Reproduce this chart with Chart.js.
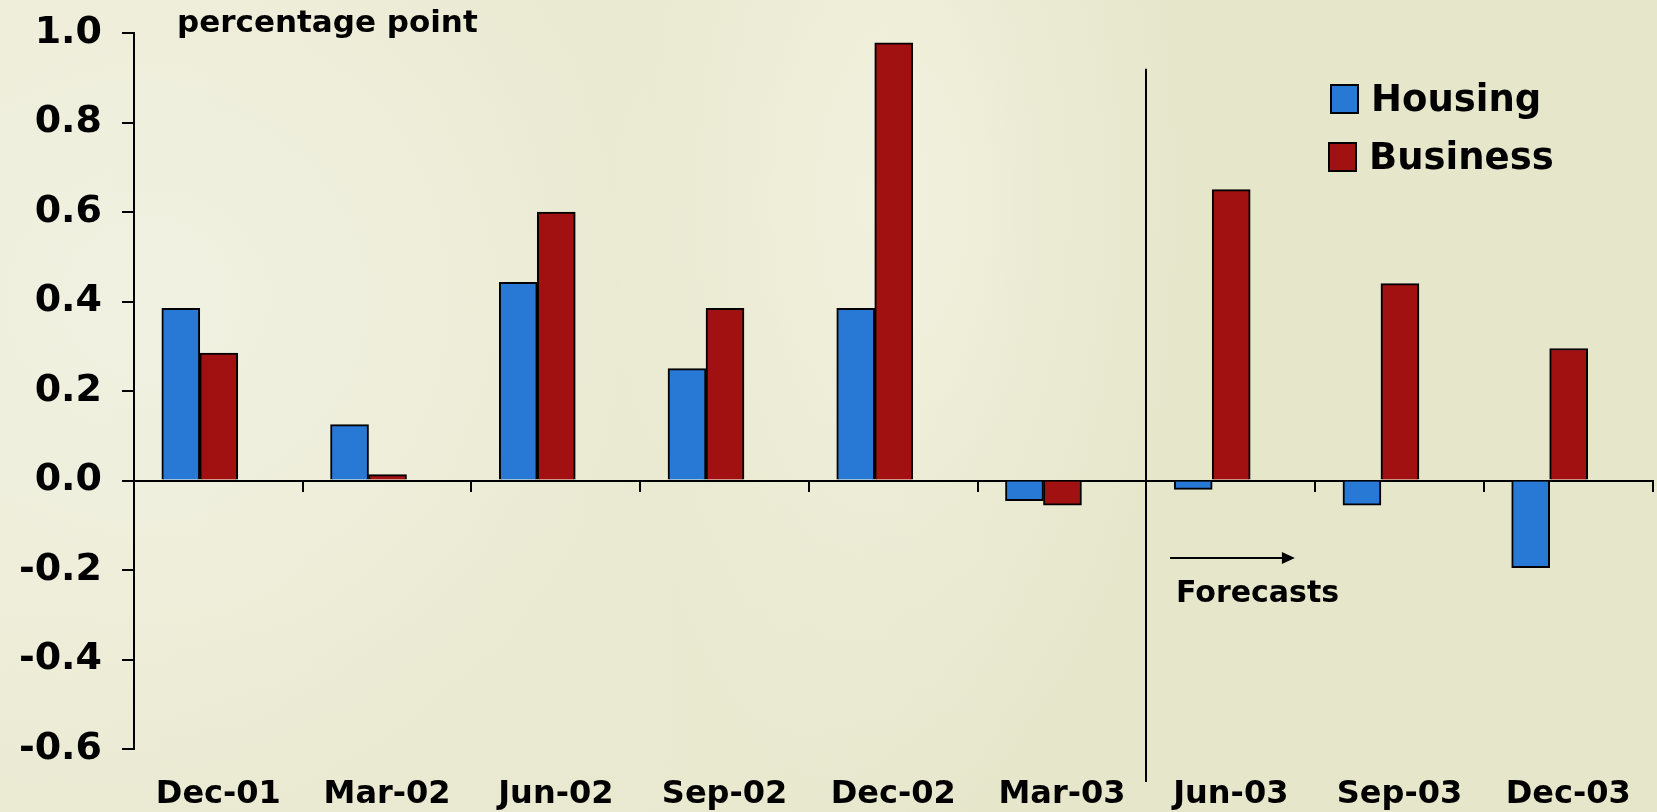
<!DOCTYPE html>
<html>
<head>
<meta charset="utf-8">
<script src="https://cdn.jsdelivr.net/npm/chart.js@4.4.0/dist/chart.umd.min.js"></script>
<style>
  html, body { margin: 0; padding: 0; }
  body {
    width: 1657px;
    height: 812px;
    overflow: hidden;
    background:
      radial-gradient(ellipse 420px 900px at 900px 200px, rgba(244,244,228,0.75), rgba(244,244,228,0) 70%),
      radial-gradient(ellipse 750px 700px at 150px 300px, rgba(242,242,228,0.9), rgba(242,242,228,0) 75%),
      linear-gradient(90deg, #ebebd4 0%, #e9e9d0 45%, #e6e6cb 62%, #e6e6cb 100%);
  }
  #wrap { position: relative; width: 1657px; height: 812px; }
</style>
</head>
<body>
<div id="wrap"><canvas id="mybargraph"></canvas></div>
<script>
// data
const quarters = ['Dec-01', 'Mar-02', 'Jun-02', 'Sep-02', 'Dec-02', 'Mar-03', 'Jun-03', 'Sep-03', 'Dec-03']
const housing = [0.385, 0.125, 0.443, 0.25, 0.385, -0.045, -0.02, -0.055, -0.195]
const business = [0.285, 0.013, 0.60, 0.385, 0.978, -0.055, 0.65, 0.44, 0.295]
const yTicks = [-0.6, -0.4, -0.2, 0.0, 0.2, 0.4, 0.6, 0.8, 1.0]
const forecastStart = 'Jun-03'

// bars sit a little left of the category centre in the original
const barShift = -0.11
const font = '"DejaVu Sans", Verdana, sans-serif'

function points(values){
    return values.map(function(v, i){
        return {x: i + barShift, y: v}
    })
}

// title, legend, forecast marker
const extras = {
    id: 'extras',
    afterDraw(chart){
        const ctx = chart.ctx
        const xs = chart.scales.x
        const ys = chart.scales.y
        ctx.save()
        ctx.fillStyle = '#000'
        ctx.textBaseline = 'middle'
        ctx.textAlign = 'left'
        ctx.font = 'bold 31px ' + font
        ctx.fillText('percentage point', 177, 24)

        // legend
        ctx.font = 'bold 37px ' + font
        ctx.lineWidth = 2
        ctx.strokeStyle = '#000'
        chart.data.datasets.forEach(function(ds, i){
            const top = 85 + i * 58
            const left = 1331 - i * 2
            ctx.fillStyle = ds.backgroundColor
            ctx.fillRect(left, top, 27, 28)
            ctx.strokeRect(left, top, 27, 28)
            ctx.fillStyle = '#000'
            ctx.fillText(ds.label, left + 40, top + 16)
        })

        // forecast divider
        const fi = quarters.indexOf(forecastStart)
        const lx = Math.round(xs.getPixelForValue(fi - 0.5))
        ctx.lineWidth = 2
        ctx.beginPath()
        ctx.moveTo(lx, ys.getPixelForValue(0.92))
        ctx.lineTo(lx, chart.height - 30)
        ctx.stroke()

        // arrow + label
        const ax1 = xs.getPixelForValue(fi - 0.36)
        const ax2 = xs.getPixelForValue(fi + 0.38)
        const ay = ys.getPixelForValue(-0.173)
        ctx.lineWidth = 2
        ctx.beginPath()
        ctx.moveTo(ax1, ay)
        ctx.lineTo(ax2 - 10, ay)
        ctx.stroke()
        ctx.beginPath()
        ctx.moveTo(ax2, ay)
        ctx.lineTo(ax2 - 13, ay - 6)
        ctx.lineTo(ax2 - 13, ay + 6)
        ctx.closePath()
        ctx.fill()
        ctx.font = 'bold 30px ' + font
        ctx.fillText('Forecasts', ax1 + 6, ys.getPixelForValue(-0.253))
        ctx.restore()
    }
}

const canvas = document.getElementById('mybargraph')
new Chart(canvas, {
    type: 'bar',
    data: {
        labels: quarters,
        datasets: [{
            label: 'Housing',
            data: points(housing),
            backgroundColor: '#2879d6',
            borderColor: '#000',
            borderWidth: 2,
            xAxisID: 'x',
            yAxisID: 'y'
        }, {
            label: 'Business',
            data: points(business),
            backgroundColor: '#a11112',
            borderColor: '#000',
            borderWidth: 2,
            xAxisID: 'x',
            yAxisID: 'y'
        }]
    },
    options: {
        responsive: true,
        maintainAspectRatio: false,
        animation: false,
        events: [],
        barThickness: 38,
        layout: {
            padding: {top: 33, right: 0, bottom: 0, left: 0}
        },
        plugins: {
            legend: {display: false},
            tooltip: {enabled: false}
        },
        scales: {
            x: {
                type: 'linear',
                display: false,
                offset: false,
                min: -0.5,
                max: quarters.length - 0.5
            },
            xl: {
                type: 'category',
                position: 'bottom',
                offset: true,
                grid: {display: false, drawTicks: false},
                border: {display: false},
                ticks: {
                    color: '#000',
                    padding: 26,
                    maxRotation: 0,
                    autoSkip: false,
                    font: {family: font, size: 32, weight: 'bold'}
                },
                afterFit: function(scale){ scale.height = 63 }
            },
            xt: {
                type: 'category',
                position: {y: 0},
                offset: true,
                grid: {
                    offset: true,
                    drawOnChartArea: false,
                    drawTicks: true,
                    tickLength: 10,
                    color: '#000',
                    lineWidth: 2
                },
                border: {display: true, color: '#000', width: 2},
                ticks: {display: false}
            },
            y: {
                type: 'linear',
                position: 'left',
                min: yTicks[0],
                max: yTicks[yTicks.length - 1],
                afterBuildTicks: function(scale){
                    scale.ticks = yTicks.map(function(v){ return {value: v} })
                },
                grid: {
                    drawOnChartArea: false,
                    drawTicks: true,
                    tickLength: 12,
                    color: '#000',
                    lineWidth: 2
                },
                border: {display: true, color: '#000', width: 2},
                ticks: {
                    color: '#000',
                    padding: 20,
                    font: {family: font, size: 38, weight: 'bold'},
                    callback: function(v){
                        return Math.abs(v) < 1e-9 ? '0.0' : Number(v).toFixed(1)
                    }
                },
                afterFit: function(scale){
                    scale.width = 134
                    scale.paddingTop = 10
                    scale.paddingBottom = 10
                }
            }
        }
    },
    plugins: [extras]
})
</script>
</body>
</html>
